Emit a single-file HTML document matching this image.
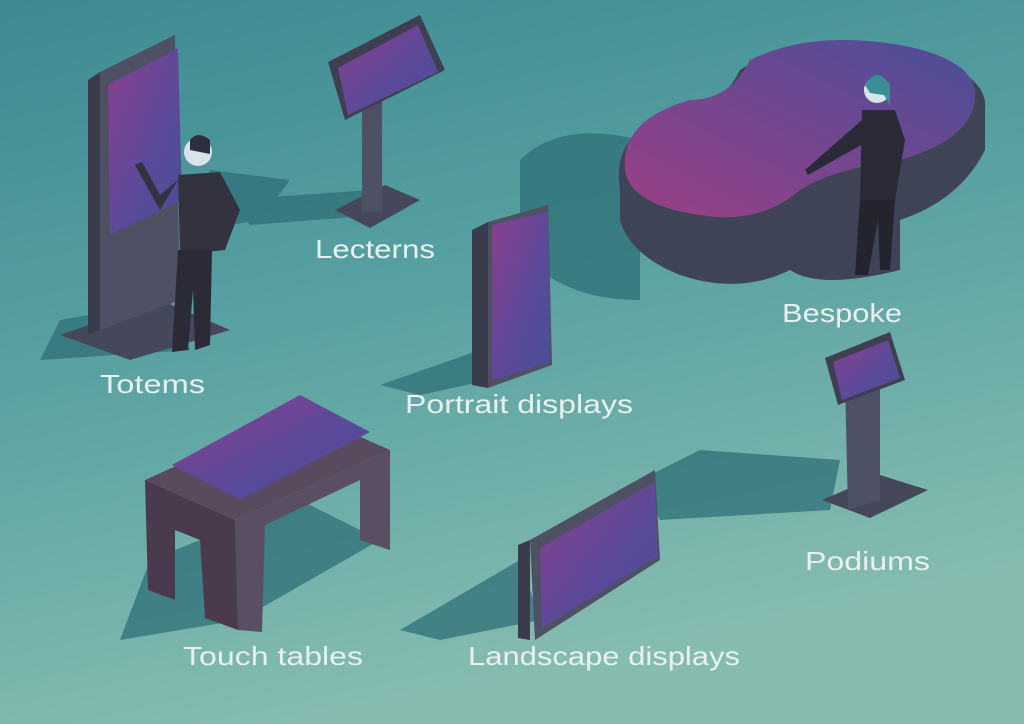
<!DOCTYPE html>
<html><head><meta charset="utf-8"><style>
html,body{margin:0;padding:0;width:1024px;height:724px;overflow:hidden}
svg{display:block}
text{font-family:"Liberation Sans",sans-serif;fill:#e8f1ef;font-size:26px}
</style></head><body>
<svg width="1024" height="724" viewBox="0 0 1024 724" xmlns="http://www.w3.org/2000/svg">
<defs>
<linearGradient id="bg" x1="0" y1="0" x2="0.3" y2="1">
<stop offset="0" stop-color="#3d8a92"/><stop offset="0.5" stop-color="#5aa2a2"/><stop offset="1" stop-color="#86bcb0"/>
</linearGradient>
<linearGradient id="scr" x1="0" y1="0" x2="1" y2="1">
<stop offset="0" stop-color="#8a3f8e"/><stop offset="0.6" stop-color="#5a4a9a"/><stop offset="1" stop-color="#4a4f96"/>
</linearGradient>
<linearGradient id="scr2" x1="0" y1="1" x2="1" y2="0">
<stop offset="0" stop-color="#9a3f86"/><stop offset="1" stop-color="#4a4e98"/>
</linearGradient>
</defs>
<rect width="1024" height="724" fill="url(#bg)"/>
<g fill="#2f6f77" opacity="0.75">
<polygon points="210,170 290,180 260,220 200,230"/>
<polygon points="230,200 370,190 380,215 250,225"/>
<polygon points="60,320 170,300 190,350 40,360"/>
<path d="M520,160 Q560,120 640,140 L640,300 Q560,300 520,250 Z"/>
<polygon points="380,385 480,350 490,380 420,395"/>
<polygon points="150,560 300,500 380,540 240,620 120,640"/>
<polygon points="400,630 520,560 540,620 440,640"/>
<polygon points="640,480 700,450 840,460 830,510 660,520"/>
</g>
<polygon points="60,335 160,300 230,330 130,360" fill="#45485a"/>
<polygon points="88,80 100,72 100,330 88,335" fill="#3a3c4c"/>
<polygon points="100,72 175,35 180,300 100,330" fill="#4e5064"/>
<polygon points="108,85 178,48 182,200 110,235" fill="url(#scr)"/>
<circle cx="198" cy="152" r="14" fill="#d8e4ea"/>
<path d="M190,140 q8,-10 20,0 l0,14 l-20,-4z" fill="#2e2e3e"/>
<polygon points="178,175 220,172 240,210 225,250 180,255" fill="#33333f"/>
<polygon points="178,180 160,210 135,165 142,162 160,195" fill="#33333f"/>
<polygon points="178,250 212,250 210,345 195,350 193,290 188,350 172,352" fill="#2b2b38"/>
<polygon points="335,210 385,185 420,200 370,228" fill="#45485a"/>
<rect x="362" y="100" width="20" height="112" fill="#4e5064"/>
<polygon points="328,62 420,15 445,70 345,120" fill="#3e4052"/>
<polygon points="338,68 418,25 438,72 348,115" fill="url(#scr)"/>
<path d="M620,190 Q610,130 680,110 Q720,110 740,70 Q800,30 900,50 Q990,70 985,110 L985,150 Q960,200 900,220 L900,270 Q820,290 790,270 Q740,295 680,275 Q630,255 620,220 Z" fill="#3e4456"/>
<path d="M625,170 Q620,120 690,100 Q730,100 750,60 Q810,30 900,45 Q980,60 975,100 Q970,140 900,160 Q830,170 800,190 Q760,225 700,215 Q630,205 625,170 Z" fill="url(#scr2)"/>
<circle cx="877" cy="90" r="13" fill="#d8e4ea"/>
<path d="M865,85 q12,-20 25,0 l0,20 l-6,-10 l-14,-2z" fill="#3a8e96"/>
<polygon points="862,110 895,110 905,140 895,200 860,200" fill="#2b2b38"/>
<polygon points="862,120 805,170 808,175 870,140" fill="#2b2b38"/>
<polygon points="860,200 895,200 890,270 880,270 878,220 868,275 855,275" fill="#24242f"/>
<polygon points="472,230 488,222 488,388 472,385" fill="#3a3c4c"/>
<polygon points="488,222 548,205 552,365 488,388" fill="#4e5064"/>
<polygon points="492,225 548,212 550,362 492,380" fill="url(#scr)"/>
<polygon points="822,500 880,475 928,490 870,518" fill="#45485a"/>
<polygon points="845,380 880,368 880,500 848,510" fill="#4e5064"/>
<polygon points="825,358 890,332 905,380 838,405" fill="#3e4052"/>
<polygon points="833,362 888,340 900,378 842,400" fill="url(#scr)"/>
<polygon points="145,480 300,410 390,450 235,520" fill="#5a4a5e"/>
<polygon points="145,480 235,520 238,630 205,618 200,540 175,530 175,600 148,590" fill="#4a3a4e"/>
<polygon points="235,520 390,450 390,550 360,540 360,480 265,525 262,632 238,630" fill="#5a4e62"/>
<polygon points="172,465 300,395 370,432 240,500" fill="url(#scr)"/>
<polygon points="518,545 530,540 530,640 518,638" fill="#3a3c4c"/>
<polygon points="530,540 655,470 660,560 535,640" fill="#4e5064"/>
<polygon points="540,548 655,482 658,556 542,628" fill="url(#scr)"/>
<text x="315" y="258" textLength="120" lengthAdjust="spacingAndGlyphs">Lecterns</text>
<text x="100" y="393" textLength="105" lengthAdjust="spacingAndGlyphs">Totems</text>
<text x="782" y="322" textLength="120" lengthAdjust="spacingAndGlyphs">Bespoke</text>
<text x="405" y="413" textLength="228" lengthAdjust="spacingAndGlyphs">Portrait displays</text>
<text x="805" y="570" textLength="125" lengthAdjust="spacingAndGlyphs">Podiums</text>
<text x="183" y="665" textLength="180" lengthAdjust="spacingAndGlyphs">Touch tables</text>
<text x="468" y="665" textLength="272" lengthAdjust="spacingAndGlyphs">Landscape displays</text>
</svg>
</body></html>
